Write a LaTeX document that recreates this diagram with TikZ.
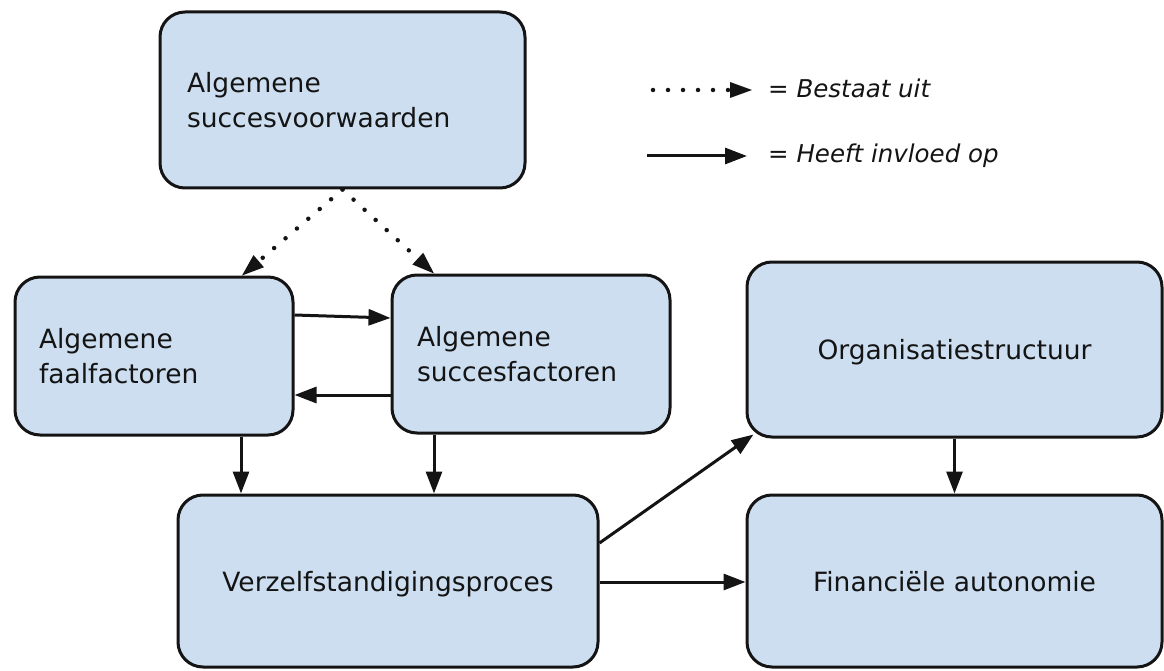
\documentclass[tikz,border=0pt]{standalone}
\usepackage{fontspec}
\setmainfont{DejaVu Sans}
\usetikzlibrary{arrows.meta}
\definecolor{boxfill}{RGB}{204,222,240}
\definecolor{ink}{RGB}{20,20,20}
\tikzset{
  box/.style={draw=ink, line width=3pt, fill=boxfill, rounded corners=25pt,
    inner sep=0pt, text=ink, font=\fontsize{26.5}{35}\selectfont},
  leftbox/.style={box, align=left},
  midbox/.style={box, align=center, text depth=0pt},
  arr/.style={draw=ink, line width=3pt, -{Triangle[length=22pt,width=16pt]}},
  dotarr/.style={draw=ink, line width=4.5pt, line cap=round,
    dash pattern=on 0pt off 15pt, -{Triangle[length=22pt,width=16pt,line width=0pt]}},
  legendtext/.style={anchor=base west, inner sep=0pt, text=ink,
    font=\fontsize{24.5}{30}\selectfont\itshape}
}
\begin{document}
\begin{tikzpicture}[x=1pt,y=-1pt]
\useasboundingbox (0,0) rectangle (1164,671);

% boxes
\node[leftbox, minimum width=365pt, minimum height=176pt, text width=311pt]
  (A) at (342.5,100) {Algemene\\succesvoorwaarden};
\node[leftbox, minimum width=278pt, minimum height=158pt, text width=230pt]
  (B) at (154,356) {Algemene\\faalfactoren};
\node[leftbox, minimum width=278pt, minimum height=158pt, text width=228pt]
  (C) at (531,354) {Algemene\\succesfactoren};
\node[midbox, minimum width=415pt, minimum height=175pt]
  (D) at (954.5,349.5) {Organisatiestructuur};
\node[midbox, minimum width=420pt, minimum height=172pt]
  (E) at (388,581) {Verzelfstandigingsproces};
\node[midbox, minimum width=415pt, minimum height=172pt]
  (F) at (954.5,581) {Financiële autonomie};

% "bestaat uit" links
\draw[dotarr] (A.south) -- (B.north -| 242,0);
\draw[dotarr] (A.south) -- (C.north -| 434,0);

% "heeft invloed op" links
\draw[arr] (B.east |- 0,315) -- (C.west |- 0,318);
\draw[arr] (C.west |- 0,395) -- (B.east |- 0,395);
\draw[arr] (B.south -| 241,0) -- (E.north -| 241,0);
\draw[arr] (C.south -| 434,0) -- (E.north -| 434,0);
\draw[arr] (E.east |- 0,543) -- ([shift={(8,-4)}]D.south west);
\draw[arr] (E.east |- 0,582) -- (F.west |- 0,582);
\draw[arr] (D.south) -- (F.north);

% legend
\coordinate (l1s) at (653,90);
\coordinate (l1e) at (752,90);
\coordinate (l2s) at (647,156);
\coordinate (l2e) at (747,156);
\draw[dotarr] (l1s) -- (l1e);
\draw[arr] (l2s) -- (l2e);
\node[legendtext] (t1) at (768,98) {= Bestaat uit};
\node[legendtext] (t2) at (768,163) {= Heeft invloed op};
\end{tikzpicture}
\end{document}
